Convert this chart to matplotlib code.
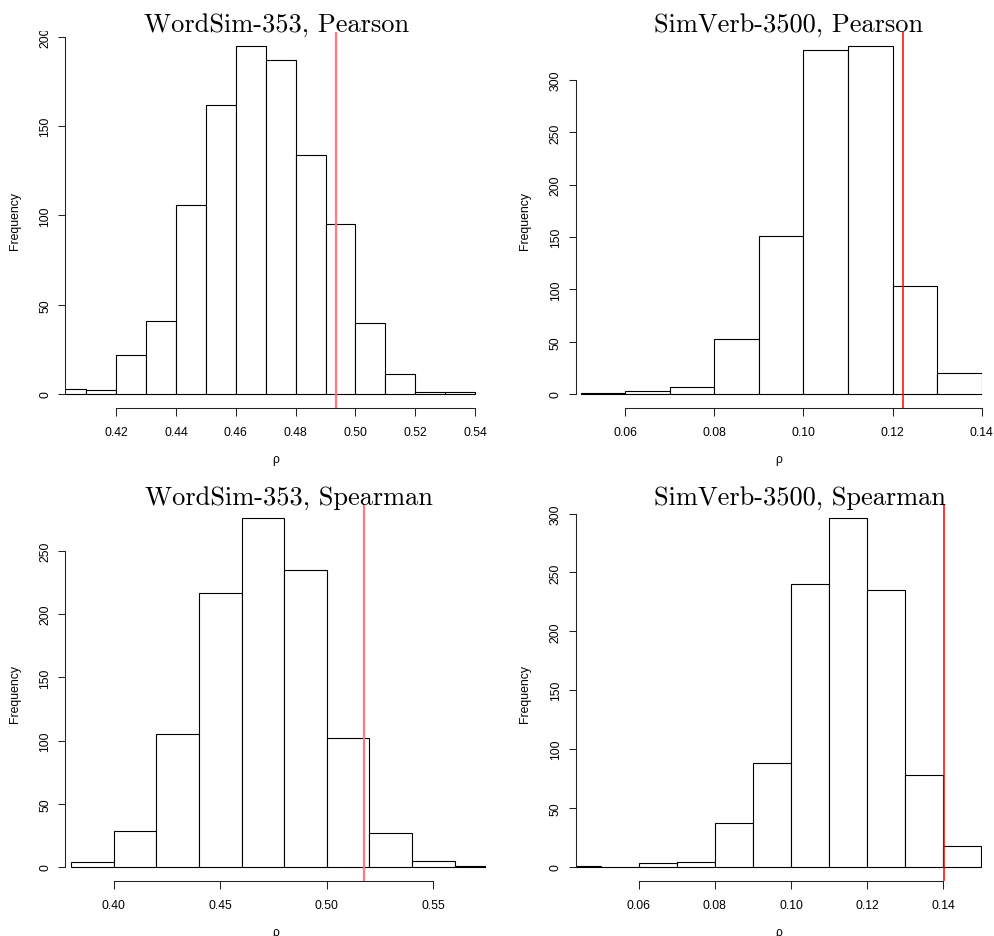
import matplotlib
matplotlib.use("Agg")
import matplotlib.pyplot as plt
import numpy as np
from matplotlib.patches import Rectangle

# ---------------- data ----------------
titles = ["WordSim-353, Pearson", "SimVerb-3500, Pearson",
          "WordSim-353, Spearman", "SimVerb-3500, Spearman"]

ws_pearson_start, ws_pearson_width = 0.40, 0.01
ws_pearson_counts = [3, 2, 22, 41, 106, 162, 195, 187, 134, 95, 40, 11, 1, 1]
ws_pearson_line = 0.4935
ws_pearson_xticks = [0.42, 0.44, 0.46, 0.48, 0.50, 0.52, 0.54]
ws_pearson_yticks = [0, 50, 100, 150, 200]

sv_pearson_start, sv_pearson_width = 0.05, 0.01
sv_pearson_counts = [1, 3, 7, 53, 151, 329, 333, 103, 20]
sv_pearson_line = 0.1223
sv_pearson_xticks = [0.06, 0.08, 0.10, 0.12, 0.14]
sv_pearson_yticks = [0, 50, 100, 150, 200, 250, 300]

ws_spearman_start, ws_spearman_width = 0.38, 0.02
ws_spearman_counts = [4, 28, 105, 217, 276, 235, 102, 27, 5, 1]
ws_spearman_line = 0.5174
ws_spearman_xticks = [0.40, 0.45, 0.50, 0.55]
ws_spearman_yticks = [0, 50, 100, 150, 200, 250]

sv_spearman_start, sv_spearman_width = 0.04, 0.01
sv_spearman_counts = [1, 0, 3, 4, 37, 88, 240, 296, 235, 78, 18]
sv_spearman_line = 0.1403
sv_spearman_xticks = [0.06, 0.08, 0.10, 0.12, 0.14]
sv_spearman_yticks = [0, 50, 100, 150, 200, 250, 300]

# ---------------- layout ----------------
W, H = 994, 937
fig = plt.figure(figsize=(W / 100, H / 100), dpi=100)
fig.patch.set_facecolor("white")

SANS = ["Liberation Sans", "DejaVu Sans"]
FS = 8.8

panels = [
    dict(title=titles[0], start=ws_pearson_start, width=ws_pearson_width,
         counts=ws_pearson_counts, line=ws_pearson_line, xticks=ws_pearson_xticks,
         yticks=ws_pearson_yticks, xfmt="%.2f", box=(65.3, 485.7, 32.6, 409.0),
         xlim=(0.40294, 0.54359), lc="#ff7b7b", lw=1.6, tx=144, ty=32.3,
         ylx=15),
    dict(title=titles[1], start=sv_pearson_start, width=sv_pearson_width,
         counts=sv_pearson_counts, line=sv_pearson_line, xticks=sv_pearson_xticks,
         yticks=sv_pearson_yticks, xfmt="%.2f", box=(576.0, 982.0, 32.6, 409.0),
         xlim=(0.04893, 0.14009), lc="#ff0000", lw=1.1, tx=654, ty=32.3,
         ylx=525),
    dict(title=titles[2], start=ws_spearman_start, width=ws_spearman_width,
         counts=ws_spearman_counts, line=ws_spearman_line, xticks=ws_spearman_xticks,
         yticks=ws_spearman_yticks, xfmt="%.2f", box=(65.3, 485.7, 505.3, 881.8),
         xlim=(0.37729, 0.57457), lc="#ff7b7b", lw=1.6, tx=145, ty=505.0,
         ylx=15),
    dict(title=titles[3], start=sv_spearman_start, width=sv_spearman_width,
         counts=sv_spearman_counts, line=sv_spearman_line, xticks=sv_spearman_xticks,
         yticks=sv_spearman_yticks, xfmt="%.2f", box=(576.0, 982.0, 505.3, 881.8),
         xlim=(0.04353, 0.15015), lc="#ff0000", lw=1.1, tx=654, ty=505.0,
         ylx=525),
]

for i, p in enumerate(panels):
    x0, x1, y0, y1 = p["box"]
    ax = fig.add_axes([x0 / W, 1 - y1 / H, (x1 - x0) / W, (y1 - y0) / H])
    ax.set_facecolor("none")
    counts = np.array(p["counts"], dtype=float)
    lefts = p["start"] + p["width"] * np.arange(len(counts))
    ax.bar(lefts, counts, width=p["width"], align="edge", facecolor="white",
           edgecolor="black", linewidth=0.8)
    ymax = counts.max()
    ax.set_ylim(-0.04 * ymax, 1.04 * ymax)
    ax.set_xlim(*p["xlim"])
    ax.axvline(p["line"], color=p["lc"], linewidth=p["lw"], zorder=5)

    for s in ["top", "right"]:
        ax.spines[s].set_visible(False)
    ax.spines["left"].set_bounds(p["yticks"][0], p["yticks"][-1])
    ax.spines["bottom"].set_bounds(p["xticks"][0], p["xticks"][-1])
    for s in ["left", "bottom"]:
        ax.spines[s].set_linewidth(0.75)
        ax.spines[s].set_color("#222222")

    ax.set_xticks(p["xticks"])
    ax.set_xticklabels([p["xfmt"] % v for v in p["xticks"]])
    ax.set_yticks(p["yticks"])
    ax.set_yticklabels([str(v) for v in p["yticks"]])
    ax.tick_params(axis="x", direction="out", length=6, width=0.75,
                   color="#222222", pad=7.2, labelsize=FS)
    ax.tick_params(axis="y", direction="out", length=5.2, width=0.75,
                   color="#222222", pad=5.0, labelsize=FS, labelrotation=90)
    for lbl in ax.get_xticklabels() + ax.get_yticklabels():
        lbl.set_fontfamily(SANS)
    for lbl in ax.get_yticklabels():
        lbl.set_verticalalignment("center")

    # title (serif, LaTeX-like)
    fig.text(p["tx"] / W, 1 - p["ty"] / H, p["title"], fontfamily="cmr10",
             fontsize=19, ha="left", va="baseline", zorder=10)
    # axis labels
    fig.text(p["ylx"] / W, 1 - ((y0 + y1) / 2) / H, "Frequency", rotation=90,
             ha="center", va="center", fontsize=FS, fontfamily=SANS)
    fig.text(((x0 + x1) / 2) / W, 1 - (y1 + 51) / H, "ρ", ha="center",
             va="center", fontsize=FS, fontfamily=SANS)

# the top tick label of the first panel is cut off at the top of its figure region
fig.patches.append(Rectangle((30 / W, 1 - 31.5 / H), 28 / W, 31.5 / H,
                             transform=fig.transFigure, facecolor="white",
                             edgecolor="none", zorder=5))

fig.savefig("out.png", dpi=100, facecolor="white")
